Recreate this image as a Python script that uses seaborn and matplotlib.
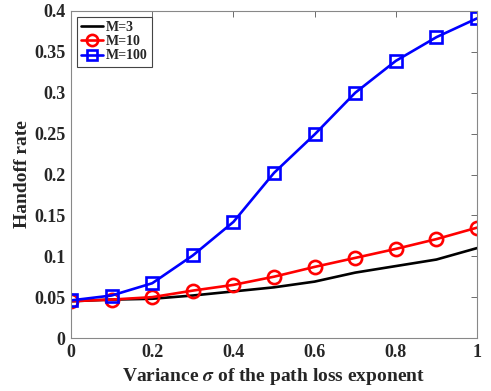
import matplotlib
matplotlib.use('Agg')
import matplotlib.pyplot as plt
import seaborn as sns

# data
sigma = [0, 0.1, 0.2, 0.3, 0.4, 0.5, 0.6, 0.7, 0.8, 0.9, 1.0]
m3 = [0.045, 0.047, 0.048, 0.052, 0.057, 0.062, 0.069, 0.080, 0.088, 0.096, 0.110]
m10 = [0.045, 0.047, 0.050, 0.058, 0.065, 0.075, 0.087, 0.098, 0.109, 0.121, 0.135]
m100 = [0.046, 0.052, 0.067, 0.101, 0.142, 0.202, 0.249, 0.300, 0.339, 0.368, 0.391]

sns.set_style('white')
plt.rcParams['font.family'] = ['Liberation Serif', 'DejaVu Serif']
plt.rcParams['font.weight'] = 'bold'
plt.rcParams['mathtext.fontset'] = 'stix'
plt.rcParams['text.color'] = '#262626'
plt.rcParams['axes.labelcolor'] = '#262626'

fig = plt.figure(figsize=(4.91, 3.91), dpi=100)
ax = fig.add_axes([0.1446, 0.1355, 0.827, 0.8364])

series = [(m3, 'M=3', 'black', None), (m10, 'M=10', 'red', 'o'), (m100, 'M=100', 'blue', 's')]
for vals, name, col, mk in series:
    sns.lineplot(x=sigma, y=vals, color=col, label=name, linewidth=1.9,
                 marker=mk, markersize=9.5 if mk == 'o' else 8.5,
                 markerfacecolor='none', markeredgecolor=col,
                 markeredgewidth=1.9, ax=ax)

ax.set_xlim(0, 1)
ax.set_ylim(0, 0.4)
ax.set_xticks([0, 0.2, 0.4, 0.6, 0.8, 1])
ax.set_xticklabels(['0', '0.2', '0.4', '0.6', '0.8', '1'])
ax.set_yticks([0, 0.05, 0.1, 0.15, 0.2, 0.25, 0.3, 0.35, 0.4])
ax.set_yticklabels(['0', '0.05', '0.1', '0.15', '0.2', '0.25', '0.3', '0.35', '0.4'])
ax.tick_params(direction='in', length=4, width=0.6, color='#555555',
               labelcolor='#262626', labelsize=13, top=True, right=True, pad=4)
for s in ax.spines.values():
    s.set_color('#888888')
    s.set_linewidth(0.8)

ax.set_xlabel('Variance $\\sigma$ of the path loss exponent', fontsize=14, fontweight='bold', labelpad=4)
ax.set_ylabel('Handoff rate', fontsize=14, fontweight='bold', labelpad=2)

leg = ax.legend(loc='upper left', fontsize=10, frameon=True, fancybox=False,
                handlelength=1.6, handletextpad=0.2, borderpad=0.3,
                labelspacing=0.1, borderaxespad=0.4, markerscale=0.85)
leg.get_frame().set_edgecolor('#444444')
leg.get_frame().set_linewidth(0.8)
leg.get_frame().set_alpha(1)
for t in leg.get_texts():
    t.set_fontweight('bold')

fig.savefig('out.png', dpi=100)
